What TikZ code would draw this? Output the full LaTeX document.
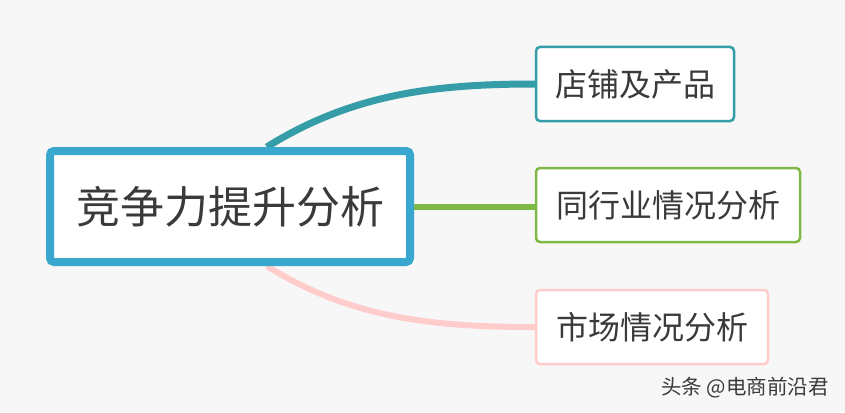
\documentclass[tikz,border=0pt]{standalone}
\usepackage{fontspec}
\usepackage{xcolor}
\usepackage{tikz}
\usetikzlibrary{positioning, calc, backgrounds}
\newfontfamily\cjk{Noto Sans CJK SC}
\definecolor{bgpaper}{RGB}{247,247,247}
\definecolor{txtdark}{RGB}{58,58,58}
\definecolor{mainblue}{RGB}{58,168,206}
\definecolor{teal}{RGB}{52,157,167}
\definecolor{leafgreen}{RGB}{126,185,68}
\definecolor{softpink}{RGB}{255,204,204}
\tikzset{
  topic/.style={rectangle, draw=mainblue, fill=white, line width=8pt,
    rounded corners=4pt, minimum width=360pt, minimum height=111pt,
    inner sep=0pt, text=txtdark, font=\cjk\fontsize{44}{50}\selectfont},
  leaf/.style={rectangle, fill=white, line width=2.5pt,
    rounded corners=4pt, minimum height=74pt,
    inner sep=0pt, text=txtdark, font=\cjk\fontsize{32}{38}\selectfont},
  branch/.style={line width=#1, line cap=butt}
}
\begin{document}
\begin{tikzpicture}[x=1pt, y=-1pt]
  \useasboundingbox (0,0) rectangle (845,412);

  % Central topic
  \node[topic] (main) at (230,206.5) {竞争力提升分析};

  % Subtopics
  \node[leaf, draw=teal, minimum width=198pt] (shop) at (635,84) {店铺及产品};
  \node[leaf, draw=leafgreen, minimum width=264pt] (peer) at (668,205) {同行业情况分析};
  \node[leaf, draw=softpink, minimum width=232pt] (market) at (652,327) {市场情况分析};

  % Watermark
  \node[text=txtdark, font=\cjk\fontsize{20.5}{24}\selectfont] (mark) at (745,388) {头条 @电商前沿君};

  % Branches (behind the boxes)
  \begin{pgfonlayer}{background}
    \fill[bgpaper] (0,0) rectangle (845,412);
    \draw[branch=7pt, teal] ($(main.north west)!0.6!(main.north east)$)
      .. controls +(85,-53) and ($(shop.west)+(-100,0)$) .. (shop.west);
    \draw[branch=6pt, leafgreen] (main.east) -- (main.east -| peer.west);
    \draw[branch=6pt, softpink] ($(main.south west)!0.6!(main.south east)$)
      .. controls +(85,53) and ($(market.west)+(-100,0)$) .. (market.west);
  \end{pgfonlayer}
\end{tikzpicture}
\end{document}
